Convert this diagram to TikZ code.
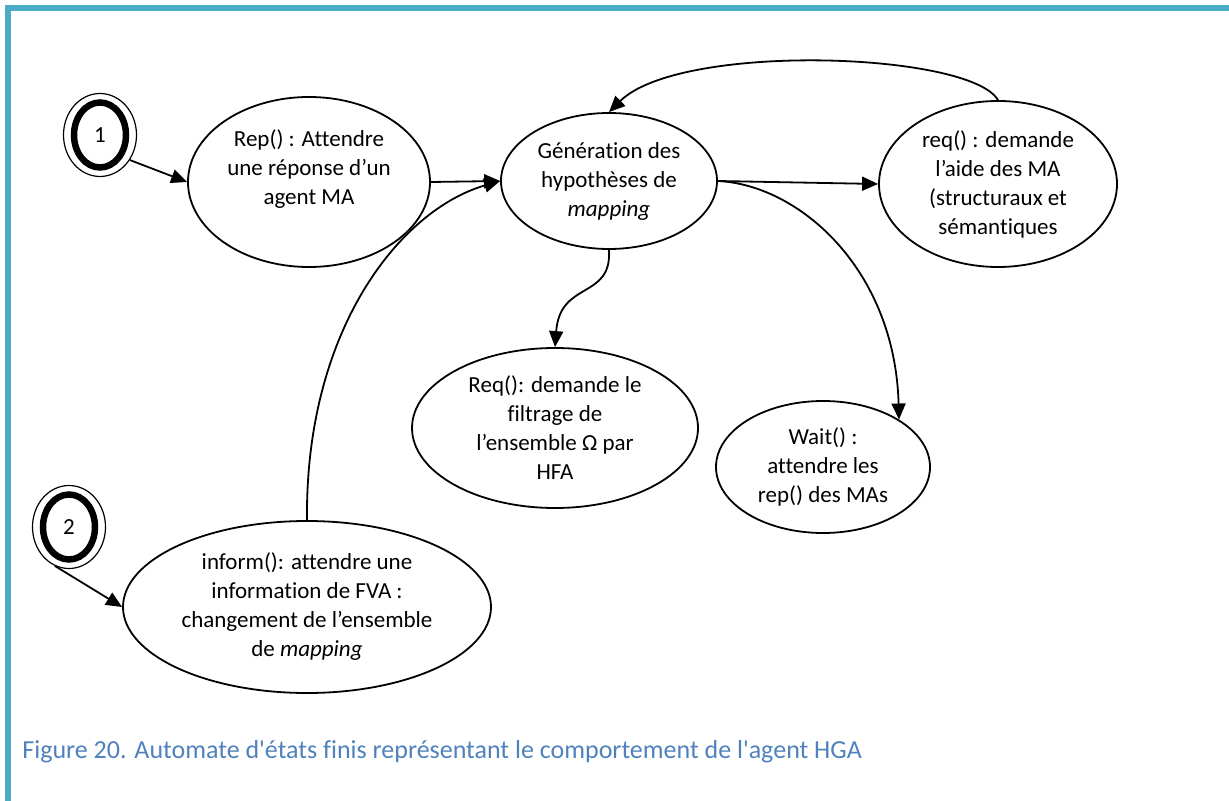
\documentclass[tikz,border=0pt]{standalone}
\usepackage{fontspec}
\setmainfont{Carlito}[Ligatures=NoCommon]
\newfontfamily\legfont{Carlito}[Ligatures={TeXOff,NoCommon}]
\usepackage{tikz}
\usetikzlibrary{arrows.meta, shapes.geometric}
\definecolor{cadre}{HTML}{4BACC6}
\definecolor{legende}{HTML}{4F81BD}
\tikzset{
    etat/.style={ellipse, draw, line width=0.9pt, align=center, inner sep=0pt, font=\fontsize{11.5}{14.5}\selectfont},
    debut/.style={ellipse, draw, line width=0.6pt, minimum width=36.5pt, minimum height=41.5pt, inner sep=0pt, font=\fontsize{11.5}{14.5}\selectfont,
        path picture={\draw[line width=3.25pt] (path picture bounding box.center) ellipse [x radius=13pt, y radius=16.25pt];}},
    trans/.style={line width=0.9pt, -{Triangle[length=8pt,width=7pt]}}
}
\begin{document}
\begin{tikzpicture}[x=0.5pt, y=-0.5pt]
    \useasboundingbox (0,0) rectangle (1229,801);
    \fill[cadre] (5,5) rectangle (1229,11);
    \fill[cadre] (5,5) rectangle (11,801);
    \node[debut] (s1) at (100,135) {1};
    \node[etat, minimum width=121pt, minimum height=85pt] (rep) at (309,182) {Rep() : Attendre\\une réponse d’un\\agent MA\\\mbox{}};
    \node[etat, minimum width=108pt, minimum height=68pt] (gen) at (609,181) {Génération des\\hypothèses de\\\emph{mapping}};
    \node[etat, minimum width=119pt, minimum height=83pt] (reqma) at (998,184) {req() : demande\\l’aide des MA\\(structuraux et\\sémantiques};
    \node[etat, minimum width=143pt, minimum height=80pt] (filtre) at (555,428) {Req(): demande le\\filtrage de\\l’ensemble Ω par\\HFA};
    \node[etat, minimum width=107pt, minimum height=66pt] (wait) at (823,467) {Wait() :\\attendre les\\rep() des MAs};
    \node[debut] (s2) at (69,527) {2};
    \node[etat, minimum width=184pt, minimum height=86pt] (inform) at (307,607) {inform(): attendre une\\information de FVA :\\changement de l’ensemble\\de \emph{mapping}};
    \node[anchor=base west, inner sep=0pt, text=legende, font=\legfont\fontsize{13}{15}\selectfont] (legende) at (22,758) {Figure 20. Automate d'états finis représentant le comportement de l'agent HGA};
    \draw[trans] (s1.-40) -- (rep.west);
    \draw[trans] (rep.east) -- (gen.west);
    \draw[trans] (inform.north) .. controls (305,330) and (400,210) .. (gen.west);
    \draw[trans] (gen.east) -- (reqma.west);
    \draw[trans] (reqma.north) .. controls (970,52) and (680,42) .. (gen.north);
    \draw[trans] (gen.south) .. controls (612,300) and (560,280) .. (filtre.north);
    \draw[trans] (gen.east) .. controls (800,185) and (895,270) .. (wait.32);
    \draw[trans] (s2.250) -- (inform.west);
\end{tikzpicture}
\end{document}
